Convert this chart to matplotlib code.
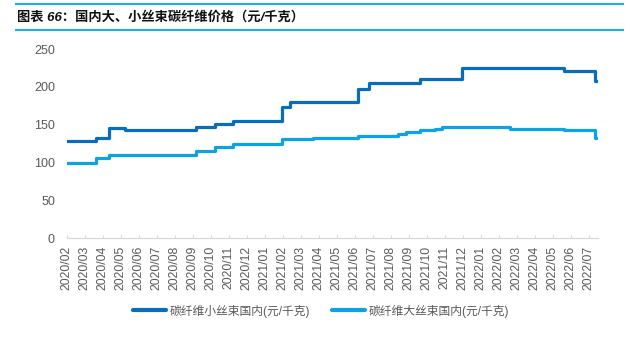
import matplotlib
matplotlib.use("Agg")
import matplotlib.pyplot as plt
from matplotlib.lines import Line2D
import pandas as pd

plt.rcParams['font.family'] = ['Liberation Sans', 'Noto Sans CJK SC']

# Month labels along the x axis
month_labels = ['2020/02', '2020/03', '2020/04', '2020/05', '2020/06', '2020/07',
                '2020/08', '2020/09', '2020/10', '2020/11', '2020/12', '2021/01',
                '2021/02', '2021/03', '2021/04', '2021/05', '2021/06', '2021/07',
                '2021/08', '2021/09', '2021/10', '2021/11', '2021/12', '2022/01',
                '2022/02', '2022/03', '2022/04', '2022/05', '2022/06', '2022/07']

# Small-tow carbon fibre, domestic price (yuan/kg): date of each price change
small_dates = ['2020-02-01', '2020-03-20', '2020-04-12', '2020-05-09', '2020-09-06',
               '2020-10-08', '2020-11-08', '2021-01-31', '2021-02-13', '2021-06-07',
               '2021-06-25', '2021-09-20', '2021-11-29', '2022-05-20', '2022-07-11',
               '2022-07-15']
small_price = [128, 133, 145.5, 143, 146.5, 150.5, 155, 173, 180.5, 197, 205.5,
               210, 225.5, 221, 207.5, 207.5]

# Large-tow carbon fibre, domestic price (yuan/kg)
large_dates = ['2020-02-01', '2020-03-20', '2020-04-12', '2020-09-06', '2020-10-08',
               '2020-11-08', '2021-01-31', '2021-03-22', '2021-06-07', '2021-08-14',
               '2021-08-28', '2021-09-20', '2021-10-15', '2021-10-27', '2022-02-19',
               '2022-05-20', '2022-07-11', '2022-07-15']
large_price = [100, 105.5, 110, 115, 120, 125, 130.5, 133, 135, 137.5, 140, 142.5,
               145, 147, 145, 143, 132.5, 132.5]

series_names = ['碳纤维小丝束国内(元/千克)', '碳纤维大丝束国内(元/千克)']
series_colors = ['#0A6CBC', '#0BA2E6']


def month_position(dates):
    """Position on an evenly spaced monthly axis (0 = 2020/02)."""
    d = pd.to_datetime(pd.Series(dates))
    return ((d.dt.year - 2020) * 12 + d.dt.month - 2
            + (d.dt.day - 1) / d.dt.days_in_month).to_numpy()


fig = plt.figure(figsize=(6.36, 3.39), dpi=100)
ax = fig.add_axes([66.7 / 636, 1 - 238.3 / 339, (597.7 - 66.7) / 636, (238.3 - 49) / 339])

for dates, price, name, color in [(small_dates, small_price, series_names[0], series_colors[0]),
                                  (large_dates, large_price, series_names[1], series_colors[1])]:
    ax.step(month_position(dates), price, where='post', color=color, lw=2.3,
            label=name, solid_joinstyle='round', solid_capstyle='round')

ax.set_xlim(0, 29.5)
ax.set_ylim(0, 250)
ax.set_yticks(range(0, 251, 50))
ax.set_xticks(range(len(month_labels)))
ax.set_xticklabels(month_labels, rotation=90)

for side in ['top', 'right', 'left']:
    ax.spines[side].set_visible(False)
ax.spines['bottom'].set_color('#D9D9D9')
ax.spines['bottom'].set_linewidth(0.9)

ax.tick_params(axis='y', length=0, pad=8.5, labelsize=9, labelcolor='#595959')
ax.tick_params(axis='x', direction='in', length=2.5, width=0.8, color='#D9D9D9',
               pad=5.5, labelsize=8.8, labelcolor='#595959')

leg = fig.legend(loc='center', bbox_to_anchor=(0.505, 1 - 311 / 339), ncol=2,
                 frameon=False, fontsize=8.5, handlelength=2.8, handletextpad=0.3,
                 columnspacing=1.9, labelcolor='#595959')
for h in leg.legend_handles:
    h.set_linewidth(3)

# Heading with rules above and below
fig.text(17 / 636, 1 - 17.5 / 339, '图表 66：国内大、小丝束碳纤维价格（元/千克）',
         fontsize=9.5, fontweight='bold', style='italic', color='#111111',
         ha='left', va='center')
for yy in (4.3, 30):
    fig.add_artist(Line2D([16 / 636, 623 / 636], [1 - yy / 339, 1 - yy / 339],
                          color='#1AB0EE', lw=1.5))

fig.savefig('out.png', dpi=100)
